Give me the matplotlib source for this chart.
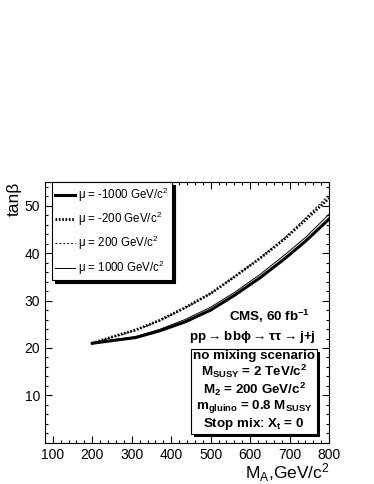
import matplotlib
matplotlib.use("Agg")
import matplotlib.pyplot as plt
from matplotlib.patches import Rectangle
from matplotlib.transforms import IdentityTransform
from matplotlib.ticker import MultipleLocator

# ========================
# STYLE
# ========================
plt.rcParams['font.family'] = ['Liberation Sans', 'DejaVu Sans']
plt.rcParams['mathtext.default'] = 'regular'
plt.rcParams['xtick.direction'] = 'in'
plt.rcParams['ytick.direction'] = 'in'

# ========================
# DATA
# ========================
m_a = [200, 245, 310, 370, 435, 500, 560, 625, 690, 740, 800]
tanb_mu_m1000 = [21.0, 21.5, 22.2, 23.6, 25.5, 28.0, 31.1, 34.8, 39.0, 42.5, 47.2]
tanb_mu_m200 = [21.0, 22.2, 23.8, 25.8, 28.5, 31.5, 35.0, 38.9, 43.2, 47.0, 51.6]
tanb_mu_p200 = [21.0, 22.1, 23.7, 25.7, 28.4, 31.5, 35.0, 39.0, 43.4, 47.4, 52.3]
tanb_mu_p1000 = [21.0, 21.6, 22.4, 23.9, 26.0, 28.6, 31.7, 35.5, 39.8, 43.3, 48.2]

labels = ["\u03bc = -1000 GeV/c$^2$", "\u03bc = -200 GeV/c$^2$",
          "\u03bc = 200 GeV/c$^2$", "\u03bc = 1000 GeV/c$^2$"]

box_lines = ["no mixing scenario",
             "M$_{SUSY}$ = 2 TeV/c$^2$",
             "M$_2$ = 200 GeV/c$^2$",
             "m$_{gluino}$ = 0.8 M$_{SUSY}$",
             "Stop mix: X$_t$ = 0"]

# ========================
# FIGURE
# ========================
fig = plt.figure(figsize=(3.74, 4.84), dpi=100)
ax = fig.add_axes([0.120, 0.085, 0.760, 0.539])

ax.plot(m_a, tanb_mu_m1000, color='black', lw=2.2, ls='-', label=labels[0])
ax.plot(m_a, tanb_mu_m200, color='black', lw=2.0, ls=(0, (0.6, 0.6)), label=labels[1])
ax.plot(m_a, tanb_mu_p200, color='black', lw=0.7, ls=(0, (2, 2)), label=labels[2])
ax.plot(m_a, tanb_mu_p1000, color='black', lw=0.7, ls='-', label=labels[3])

ax.set_xlim(80, 800)
ax.set_ylim(0, 55)
ax.set_xticks([100, 200, 300, 400, 500, 600, 700, 800])
ax.set_yticks([10, 20, 30, 40, 50])
ax.xaxis.set_minor_locator(MultipleLocator(20))
ax.yaxis.set_minor_locator(MultipleLocator(2))
ax.tick_params(which='both', top=True, right=True, labelsize=10, width=0.8)
ax.tick_params(which='major', length=5)
ax.tick_params(which='minor', length=2.5)
for s in ax.spines.values():
    s.set_linewidth(0.8)

ax.set_xlabel("M$_A$,GeV/c$^2$", fontsize=12.5, loc='right', labelpad=0)
ax.set_ylabel("tan\u03b2", fontsize=12.5, loc='top', labelpad=2)

leg = ax.legend(loc='upper left', bbox_to_anchor=(0.025, 1.0), borderaxespad=0,
                fontsize=8.3, frameon=True, fancybox=False, edgecolor='black',
                framealpha=1, handlelength=1.7, handletextpad=0.3,
                labelspacing=0.53, borderpad=0.3,
                shadow={'color': 'black', 'alpha': 1})
leg.get_frame().set_linewidth(0.8)

ax.text(0.933, 0.483, "CMS, 60 fb$^{-1}$", transform=ax.transAxes,
        fontsize=9.6, fontweight='bold', ha='right', va='center')
ax.text(0.729, 0.406, r"pp$\rightarrow$bb$\phi\rightarrow\tau\tau\rightarrow$j+j",
        transform=ax.transAxes, fontsize=9.6, fontweight='bold', ha='center', va='center')

# info box, hard black shadow added after layout
box = ax.text(0.736, 0.200, "\n".join(box_lines), transform=ax.transAxes,
              fontsize=9.6, fontweight='bold', ha='center', va='center',
              linespacing=1.05, zorder=5,
              bbox=dict(boxstyle='square,pad=0.18', facecolor='white',
                        edgecolor='black', linewidth=0.8))
fig.canvas.draw()
bb = box.get_bbox_patch().get_window_extent()
ax.add_patch(Rectangle((bb.x0 + 3, bb.y0 - 3), bb.width, bb.height,
                       transform=IdentityTransform(), facecolor='black',
                       edgecolor='none', zorder=4, clip_on=False))

fig.savefig("out.png", dpi=100)
